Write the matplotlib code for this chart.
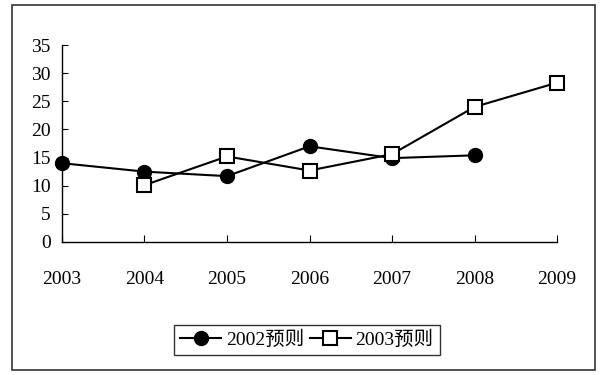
import numpy as np
import matplotlib
matplotlib.use("Agg")
import matplotlib.pyplot as plt
from matplotlib.patches import Rectangle

years = [2003, 2004, 2005, 2006, 2007, 2008, 2009]
forecast_2002 = [14.0, 12.5, 11.7, 17.0, 14.9, 15.4, np.nan]
forecast_2003 = [np.nan, 10.1, 15.2, 12.7, 15.6, 24.0, 28.3]
labels = ["2002预则", "2003预则"]
y_ticks = [0, 5, 10, 15, 20, 25, 30, 35]

plt.rcParams["font.family"] = ["Liberation Serif", "Noto Sans CJK SC"]

fig = plt.figure(figsize=(6.03, 3.75), dpi=100)
ax = fig.add_axes([0.1028, 0.3547, 0.821, 0.5253])

ax.plot(years, forecast_2002, color="black", lw=1.5, marker="o", ms=10,
        mfc="black", mec="black", label=labels[0])
ax.plot(years, forecast_2003, color="black", lw=1.5, marker="s", ms=10,
        mfc="white", mec="black", mew=1.5, label=labels[1])

ax.set_xlim(2003, 2009)
ax.set_ylim(0, 35)
ax.set_xticks(years)
ax.set_xticklabels([str(y) for y in years])
ax.set_yticks(y_ticks)
ax.tick_params(axis="x", direction="in", length=5, pad=21, labelsize=14)
ax.tick_params(axis="y", direction="in", length=4, pad=8, labelsize=14)
for s in ["top", "right"]:
    ax.spines[s].set_visible(False)
for s in ["left", "bottom"]:
    ax.spines[s].set_color("black")
    ax.spines[s].set_linewidth(1.0)
for line in ax.lines:
    line.set_clip_on(False)

leg = fig.legend(loc="center", bbox_to_anchor=(0.509, 0.093), ncol=2,
                 frameon=True, fancybox=False, edgecolor="black",
                 fontsize=14, handlelength=2.1, handletextpad=0.25,
                 columnspacing=0.3, borderpad=0.3)
leg.get_frame().set_linewidth(1.0)

fig.patches.append(Rectangle((0.02, 0.0133), 0.967, 0.973, transform=fig.transFigure,
                             fill=False, edgecolor="#333333", lw=1.2))

fig.savefig("out.png", dpi=100)
